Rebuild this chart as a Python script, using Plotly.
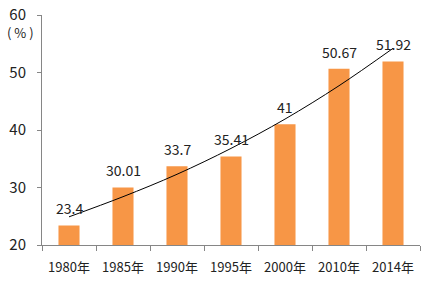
import plotly.graph_objects as go

years = ["1980年", "1985年", "1990年", "1995年", "2000年", "2010年", "2014年"]
values = [23.4, 30.01, 33.7, 35.41, 41, 50.67, 51.92]
value_labels = ["23.4", "30.01", "33.7", "35.41", "41", "50.67", "51.92"]
trend = [24.9, 28.4, 32.3, 36.8, 41.9, 47.7, 54.2]

FONT = "Noto Sans CJK SC, Open Sans, sans-serif"

fig = go.Figure()
fig.add_trace(go.Bar(
    x=years, y=values, marker=dict(color="#F79646", line=dict(width=0)),
    width=0.39, showlegend=False, hoverinfo="skip",
))
fig.add_trace(go.Scatter(
    x=years, y=trend, mode="lines", line=dict(color="black", width=1, shape="spline"),
    showlegend=False, hoverinfo="skip",
))

for x, v, t in zip(years, values, value_labels):
    fig.add_annotation(x=x, y=v, text=t, showarrow=False, yanchor="bottom",
                       yshift=5, font=dict(family=FONT, size=14, color="#222"))

fig.add_annotation(xref="paper", yref="paper", x=-0.057, y=0.922, text="( % )",
                   showarrow=False, xanchor="center", yanchor="middle",
                   font=dict(family=FONT, size=13, color="#222"))

fig.update_layout(
    width=426, height=287, margin=dict(l=42, r=6, t=15, b=42),
    paper_bgcolor="white", plot_bgcolor="white",
    bargap=0.61,
    font=dict(family=FONT, size=13, color="#222"),
    xaxis=dict(type="category", showline=True, linecolor="#868686", linewidth=1,
               ticks="outside", tickson="boundaries", ticklen=5, tickcolor="#868686",
               ticklabelstandoff=10, tickangle=0, automargin=False,
               showgrid=False, tickfont=dict(size=13, color="#222")),
    yaxis=dict(range=[20, 60], dtick=10, showline=True, linecolor="#868686", linewidth=1,
               ticks="outside", ticklen=4, tickcolor="#868686", showgrid=False,
               ticklabelstandoff=8, automargin=False,
               zeroline=False, tickfont=dict(size=15, color="#222")),
)

fig.write_html("out.html")
